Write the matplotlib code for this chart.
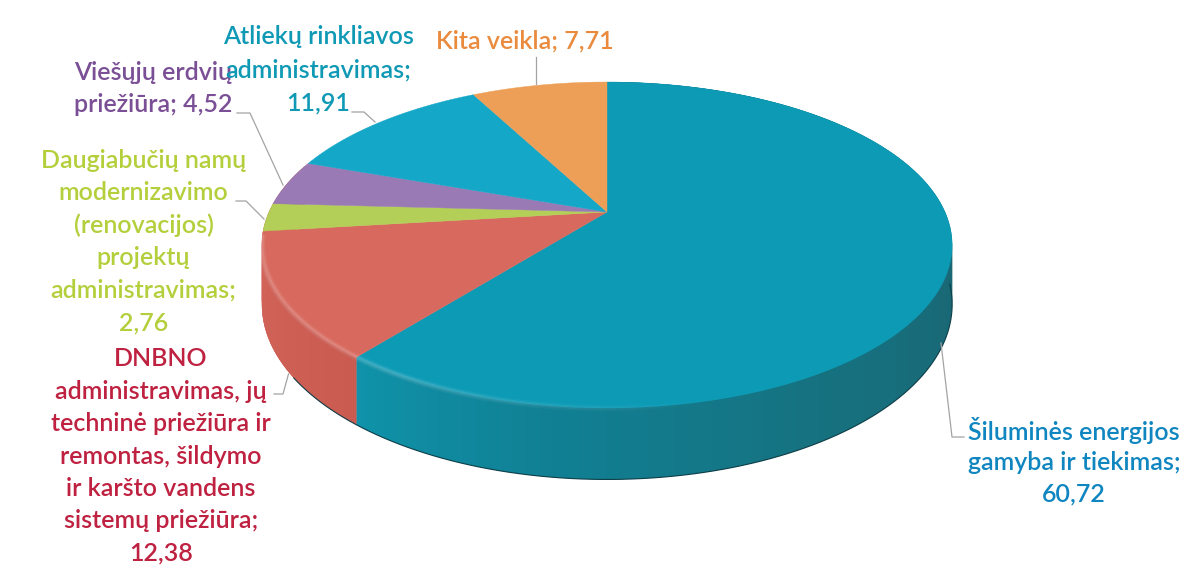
import numpy as np
import matplotlib
matplotlib.use('Agg')
import matplotlib.pyplot as plt
from matplotlib.collections import LineCollection
from matplotlib.colors import to_rgb

plt.rcParams['font.family'] = ['Lato', 'DejaVu Sans']

# shares, clockwise from 12 o'clock
names = ['Šiluminės energijos\ngamyba ir tiekimas;',
         'DNBNO\nadministravimas, jų\ntechninė priežiūra ir\nremontas, šildymo\nir karšto vandens\nsistemų priežiūra;',
         'Daugiabučių namų\nmodernizavimo\n(renovacijos)\nprojektų\nadministravimas;',
         'Viešųjų erdvių\npriežiūra;',
         'Atliekų rinkliavos\nadministravimas;',
         'Kita veikla;']
values = [60.72, 12.38, 2.76, 4.52, 11.91, 7.71]
value_text = ['60,72', '12,38', '2,76', '4,52', '11,91', '7,71']
face_colors = ['#0c9ab5', '#d8695e', '#b3cf57', '#9a7ab4', '#14a7c8', '#ee9f57']
text_colors = ['#0f86c0', '#bf2140', '#b4cf3c', '#7a4f95', '#0f99b5', '#e98a3d']

# label anchors: centre x, y of first line, line step
label_x = [1074, 161, 143.5, 153, 318, 525]
label_y = [430, 359, 160, 72, 37, 41]
label_step = [32, 32.4, 32.6, 33, 33, 33]

leaders = [[(941, 343), (952, 437), (964, 437)],
           [(274, 394), (283, 394), (288.5, 374)],
           [(236, 201), (246, 201), (264, 219)],
           [(237, 113), (250, 113), (283, 185)],
           [(352, 112), (364, 112), (375, 122)],
           [(536, 57), (536, 84)]]

# disc seen in perspective
CX, CY = 607, 212
RX, RY = 338, 156.3
PERSP = 0.2025
DEPTH = 57


def project(t):
    u, v = np.sin(t), np.cos(t)
    w = 1 + PERSP * v
    return CX + RX * u / w, CY - RY * v / w


def side_depth(t):
    return DEPTH / (1 + PERSP * np.cos(t))


def ramp(t_deg, stops):
    angles = [s[0] for s in stops]
    rgb = np.array([to_rgb(s[1]) for s in stops])
    return [np.interp(t_deg, angles, rgb[:, i]) for i in range(3)]


side_stops = [
    [(0, '#1c6a78'), (100, '#1a6674'), (150, '#167280'), (185, '#117f93'), (218.6, '#0f93ab')],
    [(218.6, '#c95b51'), (245, '#cf6157'), (300, '#d8695f')],
]

fig = plt.figure(figsize=(11.92, 5.67), dpi=100)
ax = fig.add_axes([0, 0, 1, 1])
ax.set_xlim(0, 1192)
ax.set_ylim(567, 0)
ax.axis('off')

edges = np.cumsum([0] + values) / sum(values) * 2 * np.pi

# rim, only the two front slices show one; the red one runs on behind the green
rim_ends = [edges[1], edges[2] + np.radians(25)]
for i in range(2):
    ts = np.linspace(edges[i], rim_ends[i], 120)
    x, y = project(ts)
    d = side_depth(ts)
    # a wide overlap between the strips, so no seams show
    for j in range(len(ts) - 1):
        k = min(j + 3, len(ts) - 1)
        col = ramp(np.degrees(ts[j]), side_stops[i])
        ax.fill([x[j], x[k], x[k], x[j]], [y[j], y[k], y[k] + d[k], y[j] + d[j]],
                color=col, lw=0, zorder=1)

# dark line under the rim
ts = np.radians(np.linspace(95, 235, 200))
x, y = project(ts)
ax.plot(x, y + side_depth(ts), color='#0f3f49', lw=0.8, zorder=2)

# top faces
for i in range(len(values)):
    ts = np.linspace(edges[i], edges[i + 1], 200)
    x, y = project(ts)
    ax.fill(np.r_[CX, x], np.r_[CY, y], color=face_colors[i], lw=0.3, zorder=3)

# soft highlight along the front edge
ts = np.radians(np.linspace(165, 262, 220))
x, y = project(ts)
pts = np.column_stack([x, y])
segs = np.stack([pts[:-1], pts[1:]], axis=1)
alpha = np.clip((np.degrees(ts[:-1]) - 165) / 45, 0, 1)
for lw, a in [(5, 0.07), (2.5, 0.12)]:
    ax.add_collection(LineCollection(segs, colors=[(1, 1, 1, a * q) for q in alpha], linewidths=lw, zorder=4))

# leader lines
for pts in leaders:
    ax.plot([p[0] for p in pts], [p[1] for p in pts], color='#a3a3a3', lw=0.9, zorder=5)

# labels
for i in range(len(values)):
    lines = names[i].split('\n')
    if i in (3, 5):
        lines[-1] += ' ' + value_text[i]
    else:
        lines.append(value_text[i])
    for j, line in enumerate(lines):
        ax.text(label_x[i], label_y[i] + j * label_step[i], line, ha='center', va='center',
                color=text_colors[i], fontsize=18, fontweight='semibold', zorder=6)

fig.savefig('out.png', dpi=100)
